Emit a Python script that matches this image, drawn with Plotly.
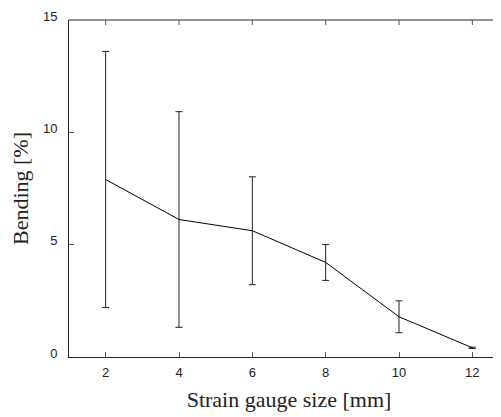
import plotly.graph_objects as go

gauge_size = [2, 4, 6, 8, 10, 12]
bending = [7.9, 6.12, 5.62, 4.21, 1.79, 0.41]
bending_err = [5.7, 4.8, 2.4, 0.8, 0.71, 0.03]
x_ticks = [2, 4, 6, 8, 10, 12]
y_ticks = [0, 5, 10, 15]

fig = go.Figure()
fig.add_trace(go.Scatter(
    x=gauge_size, y=bending, mode="lines",
    line=dict(color="black", width=1),
    error_y=dict(type="data", array=bending_err, visible=True,
                 color="#222222", thickness=1, width=3.5),
    showlegend=False,
))

tickfont = dict(family="Liberation Sans, Arial, sans-serif", size=13, color="#222222")
titlefont = dict(family="Liberation Serif, Times New Roman, serif", size=22, color="#222222")

# top frame line and mirrored top ticks
shapes = [dict(type="line", xref="paper", yref="paper", x0=0, x1=1, y0=1, y1=1,
               line=dict(color="#222222", width=1), layer="above")]
for t in x_ticks:
    shapes.append(dict(type="line", xref="x", yref="paper", ysizemode="pixel", yanchor=1,
                       x0=t, x1=t, y0=0, y1=-5,
                       line=dict(color="#555555", width=1), layer="above"))

fig.update_layout(
    width=501, height=417,
    margin=dict(l=61, r=0, t=12, b=68),
    paper_bgcolor="white", plot_bgcolor="white",
    xaxis=dict(
        range=[1, 13], tickvals=x_ticks,
        showgrid=False, zeroline=False, automargin=False,
        showline=True, linecolor="#222222", linewidth=1,
        ticks="inside", ticklen=5, tickcolor="#555555",
        tickfont=tickfont, ticklabelstandoff=3,
        title=dict(text="Strain gauge size [mm]", font=titlefont, standoff=13),
    ),
    yaxis=dict(
        range=[0, 15], tickvals=y_ticks,
        showgrid=False, zeroline=False, automargin=False,
        showline=True, linecolor="#222222", linewidth=1,
        ticks="inside", ticklen=5, tickcolor="#555555",
        tickfont=tickfont, ticklabelshift=-4, ticklabelstandoff=8,
        title=dict(text="Bending [%]", font=titlefont, standoff=12),
    ),
    shapes=shapes,
)

fig.write_html("out.html")
